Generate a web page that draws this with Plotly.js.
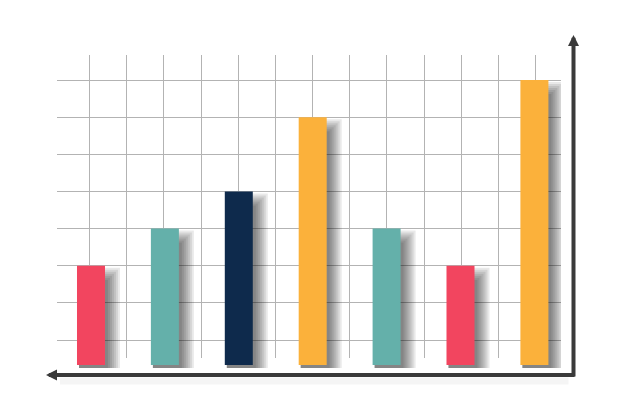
<!DOCTYPE html>
<html>
<head>
<meta charset="utf-8">
<script src="https://cdn.plot.ly/plotly-3.0.1.min.js"></script>
<style>
  html, body { margin: 0; padding: 0; background: #fff; }
  #chart { width: 626px; height: 417px; }
</style>
</head>
<body>
<div id="chart"></div>
<script>
// Chart data (the picture shows no labels, so the categories are generic)
const categories = ['A', 'B', 'C', 'D', 'E', 'F', 'G'];
const values = [3, 4, 5, 7, 4, 3, 8]; // bar heights in grid units
const barColors = ['#F2455F', '#64B0AA', '#0E2A4C', '#FBB13B', '#64B0AA', '#F2455F', '#FBB13B'];

// Page geometry (pixels)
const W = 626, H = 417;
const pxPerCat = 73.9;   // distance between bar centres
const pxPerUnit = 37.14; // distance between horizontal grid lines
const fy = p => 1 - p / H;

const xDomain = [57 / W, 561 / W];
const xRange = [-0.46, 6.36];
const yTop = fy(55);
const yRange = [0.327, 8.673];   // bar base sits at 365px
const barWidth = 28 / pxPerCat;
const gridColor = '#b3b3b3';

const hidden = {
    showticklabels: false,
    ticks: '',
    zeroline: false,
    showline: false,
    fixedrange: true,
};

// Shadow layers: each a little wider and higher, stacked to fake a blur
const growth = [0, 2, 4, 6, 8, 10, 12];
const shadowBottom = 368;
const shadowDomain = [fy(shadowBottom), yTop];
const shadowRange = [yRange[0] - (shadowBottom - 365) / pxPerUnit, yRange[1]];
const gridBottom = 358;

const data = [
    // empty trace so the grid subplot is drawn first (underneath)
    { x: [], y: [], type: 'scatter', xaxis: 'x', yaxis: 'y', hoverinfo: 'skip' },
];

const layout = {
    width: W,
    height: H,
    margin: { l: 0, r: 0, t: 0, b: 0 },
    paper_bgcolor: '#fff',
    plot_bgcolor: 'rgba(0,0,0,0)',
    showlegend: false,
    barmode: 'overlay',
    // grid lines
    xaxis: Object.assign({}, hidden, {
        type: 'linear', domain: xDomain, range: xRange, anchor: 'y',
        showgrid: true, gridcolor: gridColor, gridwidth: 1,
        tick0: -0.02, dtick: 0.503,
    }),
    yaxis: Object.assign({}, hidden, {
        type: 'linear', domain: [fy(gridBottom), yTop], anchor: 'x',
        range: [yRange[0] + (365 - gridBottom) / pxPerUnit, yRange[1]],
        showgrid: true, gridcolor: gridColor, gridwidth: 1, tick0: 0, dtick: 1,
    }),
    // bar shadows
    xaxis2: Object.assign({}, hidden, {
        type: 'category', categoryarray: categories, domain: xDomain, range: xRange,
        anchor: 'y2', showgrid: false,
    }),
    yaxis2: Object.assign({}, hidden, {
        domain: shadowDomain, range: shadowRange, anchor: 'x2', showgrid: false,
    }),
    // bars
    xaxis3: Object.assign({}, hidden, {
        type: 'category', categoryarray: categories, domain: xDomain, range: xRange,
        anchor: 'y3', showgrid: false,
    }),
    yaxis3: Object.assign({}, hidden, {
        domain: [fy(365), yTop], range: yRange, anchor: 'x3', showgrid: false,
    }),
    annotations: [],
};

growth.forEach((g, i) => {
    const axisName = 'yaxis' + (4 + i);
    const shift = Math.max(14 - g, 2) / pxPerUnit; // push the layer down
    layout[axisName] = Object.assign({}, hidden, {
        overlaying: 'y2', anchor: 'x2', showgrid: false, domain: shadowDomain,
        range: [shadowRange[0] + shift, shadowRange[1] + shift],
    });
    data.push({
        type: 'bar',
        x: categories,
        y: values,
        xaxis: 'x2',
        yaxis: 'y' + (4 + i),
        offset: -12 / pxPerCat,
        width: (29 + g) / pxPerCat,
        marker: { color: 'rgba(0,0,0,0.085)', line: { width: 0 } },
        hoverinfo: 'skip',
    });
});

data.push({
    type: 'bar',
    x: categories,
    y: values,
    xaxis: 'x3',
    yaxis: 'y3',
    width: barWidth,
    marker: { color: barColors, line: { width: 0 } },
    hoverinfo: 'skip',
});

// Axes drawn as arrows, with a soft shadow under the horizontal one
const arrow = {
    xref: 'paper', yref: 'paper', text: '', showarrow: true,
    arrowcolor: '#3a3a3a', arrowwidth: 4, arrowhead: 2, arrowsize: 0.55, standoff: 0,
};
layout.annotations.push(
    Object.assign({}, arrow, {
        x: 60 / W, y: fy(381), ax: 510, ay: 0,
        arrowhead: 0, arrowwidth: 7, arrowcolor: 'rgba(0,0,0,0.035)',
    }),
    Object.assign({}, arrow, { x: 46 / W, y: fy(375), ax: 530, ay: 0 }),
    Object.assign({}, arrow, { x: 573.5 / W, y: fy(35), ax: 0, ay: 343 })
);

Plotly.newPlot('chart', data, layout, { staticPlot: true });
</script>
</body>
</html>
